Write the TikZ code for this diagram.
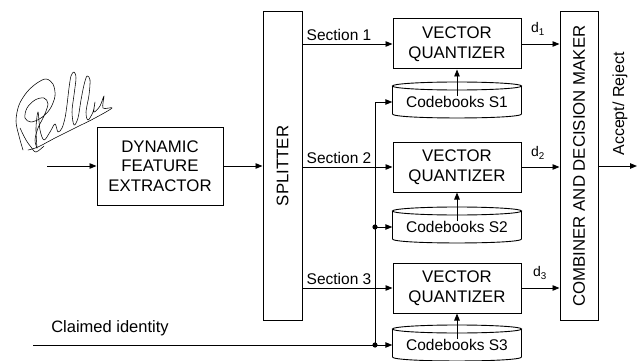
\documentclass[tikz,border=0pt]{standalone}
\usepackage{fontspec}
\setmainfont{Liberation Sans}
\usetikzlibrary{arrows.meta}
\newcommand\cbook[4]{%
  \node[minimum width=129pt, minimum height=36pt, inner sep=0pt] (#1) at (#2,#3) {};
  \node[lbl] (#1t) at (#2,#3+2) {#4};
  \draw[thinline] (#2,#3-14) ellipse [x radius=64.5pt, y radius=4pt];
  \draw[thinline] (#2-64.5,#3-14) -- (#2-64.5,#3+14) .. controls (#2-64.5,#3+19.3) and (#2+64.5,#3+19.3) .. (#2+64.5,#3+14) -- (#2+64.5,#3-14);
}
\begin{document}
\begin{tikzpicture}[x=1pt,y=-1pt,
  box/.style={draw, line width=1pt, align=center, inner sep=0pt, font=\fontsize{16.8}{19.5}\selectfont},
  vtext/.style={rotate=90, inner sep=0pt, font=\fontsize{16.8}{19.5}\selectfont},
  arr/.style={-{Triangle[length=7pt,width=5.5pt]}, line width=0.9pt},
  thinline/.style={line width=0.9pt},
  sig/.style={line width=0.55pt, line join=round, line cap=round},
  lbl/.style={font=\fontsize{15.5}{18}\selectfont, inner sep=0pt},
  dlbl/.style={font=\fontsize{14}{16}\selectfont, inner sep=0pt}]
\useasboundingbox (0,0) rectangle (640,361);

% signature
\draw[sig] plot[smooth, tension=0.55] coordinates {
  (23,150) (19,136) (16,121) (19,105) (27,92) (37,83) (46,79) (53,84) (55,96)
  (50,109) (41,118) (31,122) (25,118) (27,108) (35,100) (44,98) (48,104) (44,116)
  (38,128) (35,140) (37,148)};
\draw[sig] plot[smooth, tension=0.55] coordinates {
  (37,148) (36,128) (38,112) (40,130) (44,140) (50,132) (55,124) (58,132) (62,128)
  (65,118) (67,105) (69,88) (71,76) (74,72) (76,78) (74,95) (72,112) (74,125)
  (78,118) (81,100) (84,85) (87,76) (90,80) (89,95) (86,112) (88,120) (93,112)
  (95,102) (94,112) (100,106) (104,96) (103,108) (112,108) (95,118) (75,128)
  (55,138) (38,147) (28,150)};
\draw[sig] plot[smooth, tension=0.55] coordinates {
  (20,128) (26,140) (31,147) (36,152) (44,146)};

% main blocks
\node[box, minimum width=126pt, minimum height=78pt] (dfe) at (160,166) {DYNAMIC\\FEATURE\\EXTRACTOR};
\node[box, minimum width=39pt, minimum height=308pt] (spl) at (282.5,166) {};
\node[vtext] (splt) at (spl.center) {SPLITTER};
\node[box, minimum width=38pt, minimum height=308pt] (comb) at (579,166) {};
\node[vtext] (combt) at (comb.center) {COMBINER AND DECISION MAKER};

\node[box, minimum width=128pt, minimum height=50pt] (vq1) at (457,44) {VECTOR\\QUANTIZER};
\node[box, minimum width=128pt, minimum height=50pt] (vq2) at (457,167) {VECTOR\\QUANTIZER};
\node[box, minimum width=128pt, minimum height=50pt] (vq3) at (457,288) {VECTOR\\QUANTIZER};

\cbook{cb1}{457}{100}{Codebooks S1}
\cbook{cb2}{457}{225}{Codebooks S2}
\cbook{cb3}{457}{343}{Codebooks S3}

% input and extractor
\coordinate (in) at (47,0);
\draw[arr] (in |- dfe) -- (dfe.west);
\draw[arr] (dfe.east) -- (dfe.east -| spl.west);

% sections
\draw[arr] (vq1.west -| spl.east) -- (vq1.west);
\draw[arr] (vq2.west -| spl.east) -- (vq2.west);
\draw[arr] (vq3.west -| spl.east) -- (vq3.west);
\node[lbl, anchor=south west] (s1) at ([xshift=4pt,yshift=3pt]spl.east |- vq1.west) {Section 1};
\node[lbl, anchor=south west] (s2) at ([xshift=4pt,yshift=3pt]spl.east |- vq2.west) {Section 2};
\node[lbl, anchor=south west] (s3) at ([xshift=4pt,yshift=3pt]spl.east |- vq3.west) {Section 3};

% codebooks into quantizers
\draw[arr] (cb1t.north) -- (vq1.south);
\draw[arr] (cb2t.north) -- (vq2.south);
\draw[arr] (cb3t.north) -- (vq3.south);

% quantizers to combiner
\draw[arr] (vq1.east) -- (vq1.east -| comb.west);
\draw[arr] (vq2.east) -- (vq2.east -| comb.west);
\draw[arr] (vq3.east) -- (vq3.east -| comb.west);
\node[dlbl] (d1) at (538,29) {d\textsubscript{1}};
\node[dlbl] (d2) at (538,153) {d\textsubscript{2}};
\node[dlbl] (d3) at (540,273) {d\textsubscript{3}};

% output
\coordinate (out) at (637,0);
\draw[arr] (comb.east) -- (out |- comb.east);
\node[rotate=90, lbl, font=\fontsize{16}{18}\selectfont] (ar) at (620,104) {Accept/ Reject};

% claimed identity and bus
\coordinate (ci) at (33,0);
\coordinate (bus) at (375,0);
\node[lbl, font=\fontsize{16.5}{18}\selectfont] (cit) at (110,328) {Claimed identity};
\draw[arr] (ci |- cb3t) -- (cb3t -| cb3.west);
\draw[arr] (bus |- cb3t) -- (bus |- cb1t) -- (cb1t -| cb1.west);
\draw[arr] (bus |- cb2t) -- (cb2t -| cb2.west);
\fill (bus |- cb2t) circle (2.6pt);
\fill (bus |- cb3t) circle (2.6pt);
\end{tikzpicture}
\end{document}
